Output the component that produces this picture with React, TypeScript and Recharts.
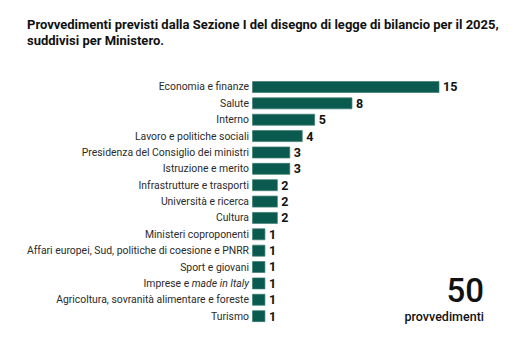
import React from 'react';
import { BarChart, Bar, XAxis, YAxis, LabelList } from 'recharts';

const ministries = [
  'Economia e finanze',
  'Salute',
  'Interno',
  'Lavoro e politiche sociali',
  'Presidenza del Consiglio dei ministri',
  'Istruzione e merito',
  'Infrastrutture e trasporti',
  'Università e ricerca',
  'Cultura',
  'Ministeri coproponenti',
  'Affari europei, Sud, politiche di coesione e PNRR',
  'Sport e giovani',
  'Imprese e made in Italy',
  'Agricoltura, sovranità alimentare e foreste',
  'Turismo',
];
const measures = [15, 8, 5, 4, 3, 3, 2, 2, 2, 1, 1, 1, 1, 1, 1];
const total = 50;

const data = ministries.map((name, i) => ({ name, value: measures[i] }));

const FONT = 'Roboto, "Noto Sans", sans-serif';

// category label, with the italic bit for "made in Italy"
const MinistryTick = ({ x, y, payload }: any) => {
  const label: string = payload.value;
  const italic = 'made in Italy';
  const idx = label.indexOf(italic);
  return (
    <text x={x} y={y} dy={3.8} textAnchor="end" fill="#2b2b2b" fontSize={10.4} fontFamily={FONT}>
      {idx >= 0 ? (
        <>
          <tspan>{label.slice(0, idx)}</tspan>
          <tspan fontStyle="italic">{italic}</tspan>
        </>
      ) : (
        label
      )}
    </text>
  );
};

export default function App() {
  return (
    <div
      style={{
        position: 'absolute',
        top: 0,
        left: 0,
        width: 529,
        height: 351,
        background: '#fff',
        fontFamily: FONT,
      }}
    >
      <div
        style={{
          position: 'absolute',
          left: 27,
          top: 17,
          fontSize: 13,
          fontWeight: 700,
          lineHeight: '15.5px',
          color: '#111',
          width: 480,
        }}
      >
        Provvedimenti previsti dalla Sezione I del disegno di legge di bilancio per il 2025,
        <br />
        suddivisi per Ministero.
      </div>

      <BarChart
        width={529}
        height={351}
        data={data}
        layout="vertical"
        margin={{ top: 78.5, right: 90, bottom: 27, left: 0 }}
        barSize={11}
      >
        <XAxis type="number" hide domain={[0, 15]} />
        <YAxis
          type="category"
          dataKey="name"
          width={252.5}
          axisLine={false}
          tickLine={false}
          tickSize={0}
          tickMargin={3.5}
          interval={0}
          tick={<MinistryTick />}
        />
        <Bar dataKey="value" fill="#0b5a4f" stroke="#3b7d72" strokeWidth={0.7} isAnimationActive={false}>
          <LabelList
            dataKey="value"
            position="right"
            offset={4}
            fill="#111"
            fontSize={12.5}
            fontWeight={700}
            fontFamily={FONT}
          />
        </Bar>
      </BarChart>

      <div
        style={{
          position: 'absolute',
          right: 529 - 484,
          top: 273,
          fontSize: 33,
          fontWeight: 500,
          lineHeight: '36px',
          color: '#111',
          textAlign: 'right',
        }}
      >
        {total}
      </div>
      <div
        style={{
          position: 'absolute',
          right: 529 - 484,
          top: 309,
          fontSize: 12.5,
          fontWeight: 500,
          lineHeight: '15px',
          color: '#111',
          textAlign: 'right',
        }}
      >
        provvedimenti
      </div>
    </div>
  );
}
